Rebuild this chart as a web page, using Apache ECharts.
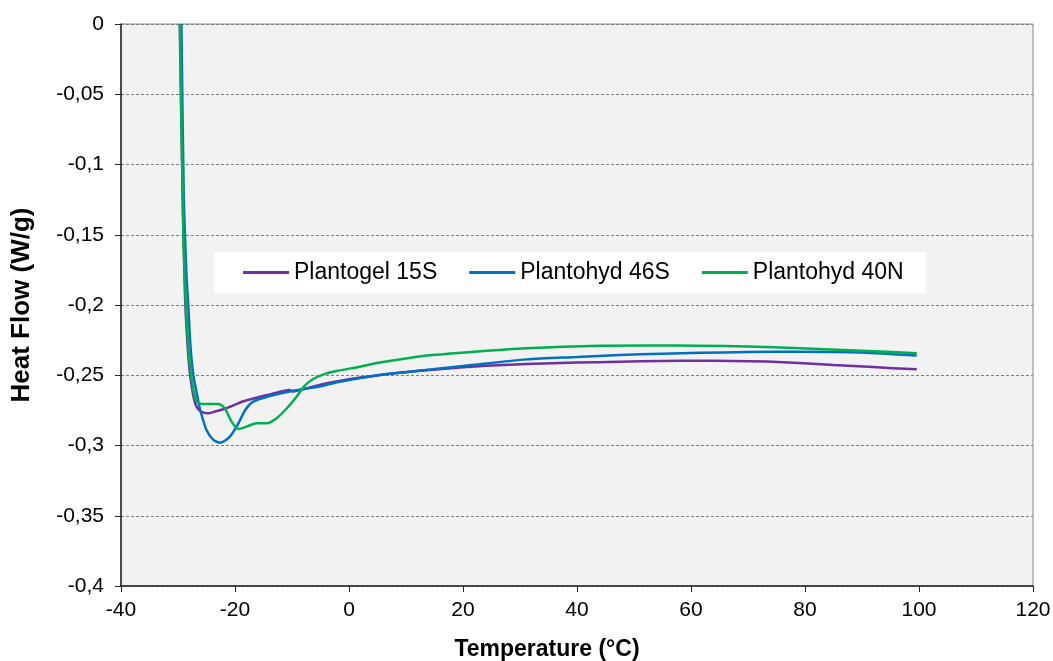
<!DOCTYPE html>
<html>
<head>
<meta charset="utf-8">
<script src="https://cdn.jsdelivr.net/npm/echarts@6/dist/echarts.min.js"></script>
<style>
  html, body { margin: 0; padding: 0; background: #fff; }
  #chart { width: 1053px; height: 661px; }
</style>
</head>
<body>
<div id="chart"></div>
<script>
// DSC curves, [temperature °C, heat flow W/g]
const seriesNames = ['Plantogel 15S', 'Plantohyd 46S', 'Plantohyd 40N']
const seriesColors = ['#7030A0', '#0070C0', '#00B050']

const plantogel15S = [
  [-29.7, 0], [-29.2, -0.12], [-28.8, -0.19], [-28.3, -0.23], [-27.8, -0.252],
  [-27.0, -0.27], [-26.2, -0.2752], [-25.4, -0.2768], [-24.7, -0.2771], [-23.5, -0.2758],
  [-21.5, -0.2735], [-18.5, -0.2685], [-15.6, -0.2653], [-12.5, -0.2622], [-10.4, -0.2605],
  [-9.9, -0.2615], [-7, -0.2588], [-3.9, -0.2557], [0, -0.2528], [5.4, -0.2498],
  [10, -0.2477], [14.7, -0.246], [20, -0.2443], [25, -0.243], [31.2, -0.242],
  [40, -0.241], [47.5, -0.2404], [55, -0.2398], [61.6, -0.2396], [67, -0.2398],
  [73.3, -0.2403], [79, -0.2413], [85, -0.2427], [92, -0.2442], [99.6, -0.2458]
]

const plantohyd46S = [
  [-29.4, 0], [-29.0, -0.12], [-28.5, -0.18], [-28.2, -0.2], [-27.8, -0.23],
  [-27.3, -0.25], [-26.6, -0.265], [-26.1, -0.2747], [-25.0, -0.289], [-23.8, -0.296],
  [-22.6, -0.298], [-20.9, -0.2937], [-19.4, -0.2842], [-18.2, -0.2747], [-16.8, -0.2688],
  [-13.9, -0.2648], [-9.8, -0.261], [-5, -0.2578], [-1.6, -0.2546], [5.4, -0.2498],
  [10, -0.2478], [14.7, -0.2458], [22, -0.2425], [31.2, -0.2387], [40, -0.237],
  [47.5, -0.2356], [55, -0.2347], [61.6, -0.234], [70, -0.2335], [79.1, -0.2332],
  [90, -0.2338], [99.6, -0.236]
]

const plantohyd40N = [
  [-29.65, 0], [-29.07, -0.1466], [-28.6, -0.2], [-28.2, -0.228], [-27.9, -0.243],
  [-27.3, -0.2605], [-26.7, -0.2688], [-25.6, -0.2705], [-22.9, -0.2705], [-21.8, -0.2735],
  [-20.6, -0.283], [-19.4, -0.2883], [-18, -0.2866], [-16.2, -0.2842], [-14.4, -0.2842],
  [-12.7, -0.2806], [-10.9, -0.2735], [-9.2, -0.2653], [-7.8, -0.2575], [-6.2, -0.2525],
  [-4.3, -0.2492], [-2.2, -0.247], [1.9, -0.2439], [5.4, -0.241], [10, -0.238], [14.7, -0.2356],
  [22, -0.2332], [31.2, -0.2308], [44, -0.229], [52, -0.2288], [61.6, -0.229],
  [70, -0.2295], [79.1, -0.2308], [90, -0.2325], [99.6, -0.2344]
]

const seriesData = [plantogel15S, plantohyd46S, plantohyd40N]

const xMin = -40, xMax = 120, xStep = 20
const yMin = -0.4, yMax = 0, yStep = 0.05

const font = '"Liberation Sans", Arial, sans-serif'

const chart = echarts.init(document.getElementById('chart'))

const option = {
  animation: false,
  grid: {
    left: 121,
    right: 20,
    top: 24,
    bottom: 75,
    outerBoundsMode: 'none',
    show: true,
    backgroundColor: '#F2F2F2',
    borderColor: '#868686',
    borderWidth: 1
  },
  legend: {
    data: seriesNames,
    left: 214,
    top: 252,
    padding: [9, 22, 9, 29],
    backgroundColor: '#ffffff',
    icon: 'rect',
    itemWidth: 46,
    itemHeight: 3,
    itemGap: 32,
    textStyle: { fontFamily: font, fontSize: 23, color: '#000' }
  },
  xAxis: {
    type: 'value',
    min: xMin,
    max: xMax,
    interval: xStep,
    name: 'Temperature (°C)',
    nameLocation: 'middle',
    nameGap: 52,
    nameTextStyle: {
      fontFamily: font, fontSize: 23, fontWeight: 'bold', color: '#000',
      padding: [0, 60, 0, 0]
    },
    axisLine: { onZero: false, lineStyle: { color: '#262626', width: 1.5 } },
    axisTick: { show: true, length: 6, lineStyle: { color: '#262626' } },
    axisLabel: { margin: 14, fontFamily: font, fontSize: 21, color: '#000' },
    splitLine: { show: false }
  },
  yAxis: {
    type: 'value',
    min: yMin,
    max: yMax,
    interval: yStep,
    name: 'Heat Flow (W/g)',
    nameLocation: 'middle',
    nameGap: 86,
    nameTextStyle: { fontFamily: font, fontSize: 26, fontWeight: 'bold', color: '#000' },
    axisLine: { onZero: false, lineStyle: { color: '#262626', width: 1.5 } },
    axisTick: { show: true, length: 6, lineStyle: { color: '#262626' } },
    axisLabel: {
      margin: 17,
      fontFamily: font,
      fontSize: 21,
      color: '#000',
      formatter: v => String(Math.round(v * 100) / 100).replace('.', ',')
    },
    splitLine: { show: true, lineStyle: { color: '#7f7f7f', type: [3, 2], width: 1 } }
  },
  series: seriesData.map((d, i) => ({
    name: seriesNames[i],
    type: 'line',
    data: d,
    showSymbol: false,
    smooth: 0.25,
    color: seriesColors[i],
    lineStyle: { width: 2.5, color: seriesColors[i] },
    clip: true
  }))
}

chart.setOption(option)
</script>
</body>
</html>
